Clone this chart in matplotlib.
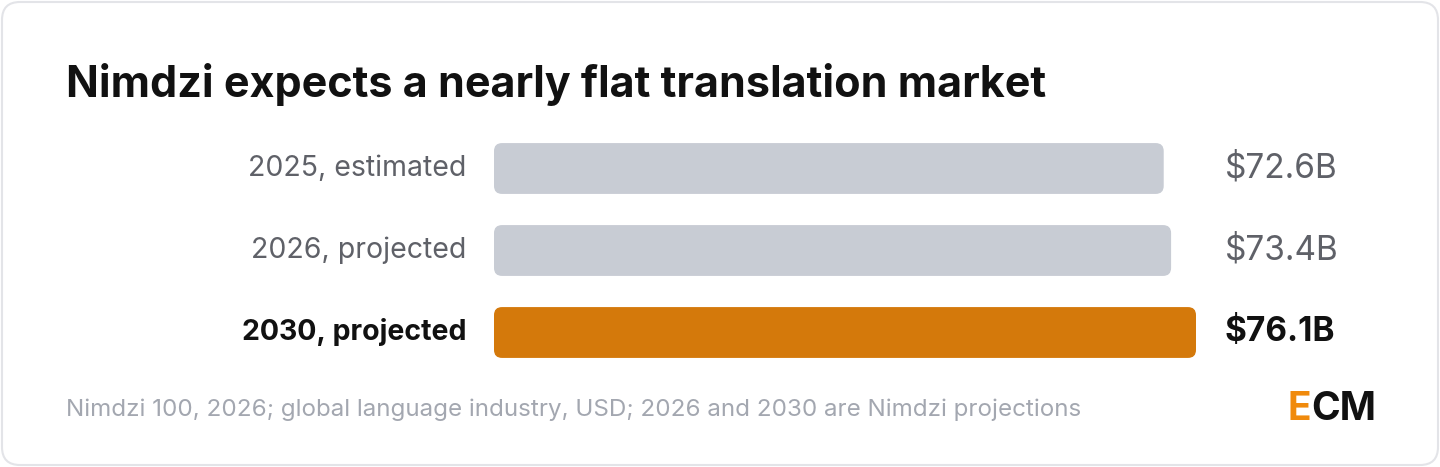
import matplotlib
matplotlib.use("Agg")
import matplotlib.pyplot as plt
from matplotlib.patches import FancyBboxPatch

categories = ["2025, estimated", "2026, projected", "2030, projected"]
values = [72.6, 73.4, 76.1]
value_labels = ["$72.6B", "$73.4B", "$76.1B"]
colors = ["#c8ccd4", "#c8ccd4", "#d4790b"]

W, H = 1440, 467
fig = plt.figure(figsize=(W/100, H/100), dpi=100)
plt.rcParams['font.family'] = ['Inter', 'DejaVu Sans']

# card
bg = fig.add_axes([0, 0, 1, 1]); bg.set_xlim(0, W); bg.set_ylim(H, 0); bg.axis('off')
bg.add_patch(FancyBboxPatch((2, 2), W-4, H-4, boxstyle="round,pad=0,rounding_size=18",
                            fc="white", ec="#e3e4e8", lw=1.5))
bg.text(66, 84, "Nimdzi expects a nearly flat translation market", fontsize=31, fontweight='bold',
        va='center', ha='left', color='#111111')
bg.text(66, 410, "Nimdzi 100, 2026; global language industry, USD; 2026 and 2030 are Nimdzi projections",
        fontsize=17.4, color='#a3a7b0', va='center', ha='left')
bg.text(1288, 410, "E", fontsize=28, fontweight='bold', color='#f08a0c', va='center', ha='left')
bg.text(1311, 410, "CM", fontsize=28, fontweight='bold', color='#111111', va='center', ha='left')

# bar axes: x 494..1196 maps 0..76.1; rows centered 168.5, 250.5, 332.5
top, bottom = 127.5, 373.5
ax = fig.add_axes([494/W, 1-bottom/H, (1196-494)/W, (bottom-top)/H])
ax.set_xlim(0, values[2]); ax.set_ylim(2.5, -0.5); ax.axis('off')
xu = values[2] / (1196-494)
yu = 3 / (bottom-top)
bars = ax.barh(range(len(values)), values, height=0.62, color=colors)
for i, b in enumerate(bars):
    x, y, w, h = b.get_x(), b.get_y(), b.get_width(), b.get_height()
    b.set_visible(False)
    ax.add_patch(FancyBboxPatch((x, y), w, h, boxstyle=f"round,pad=0,rounding_size={8*xu}",
                                mutation_aspect=yu/xu, fc=colors[i], ec='none'))
    bold = i == 2
    ax.annotate(categories[i], (0, i), xytext=(-28, 0), textcoords='offset pixels',
                ha='right', va='center', fontsize=20.5, color='#111111' if bold else '#5f6168',
                fontweight='bold' if bold else 'normal')
    ax.annotate(value_labels[i], (values[2], i), xytext=(29, 0), textcoords='offset pixels',
                ha='left', va='center', fontsize=24, color='#111111' if bold else '#5f6168',
                fontweight='bold' if bold else 'normal')

fig.savefig("out.png", dpi=100)
